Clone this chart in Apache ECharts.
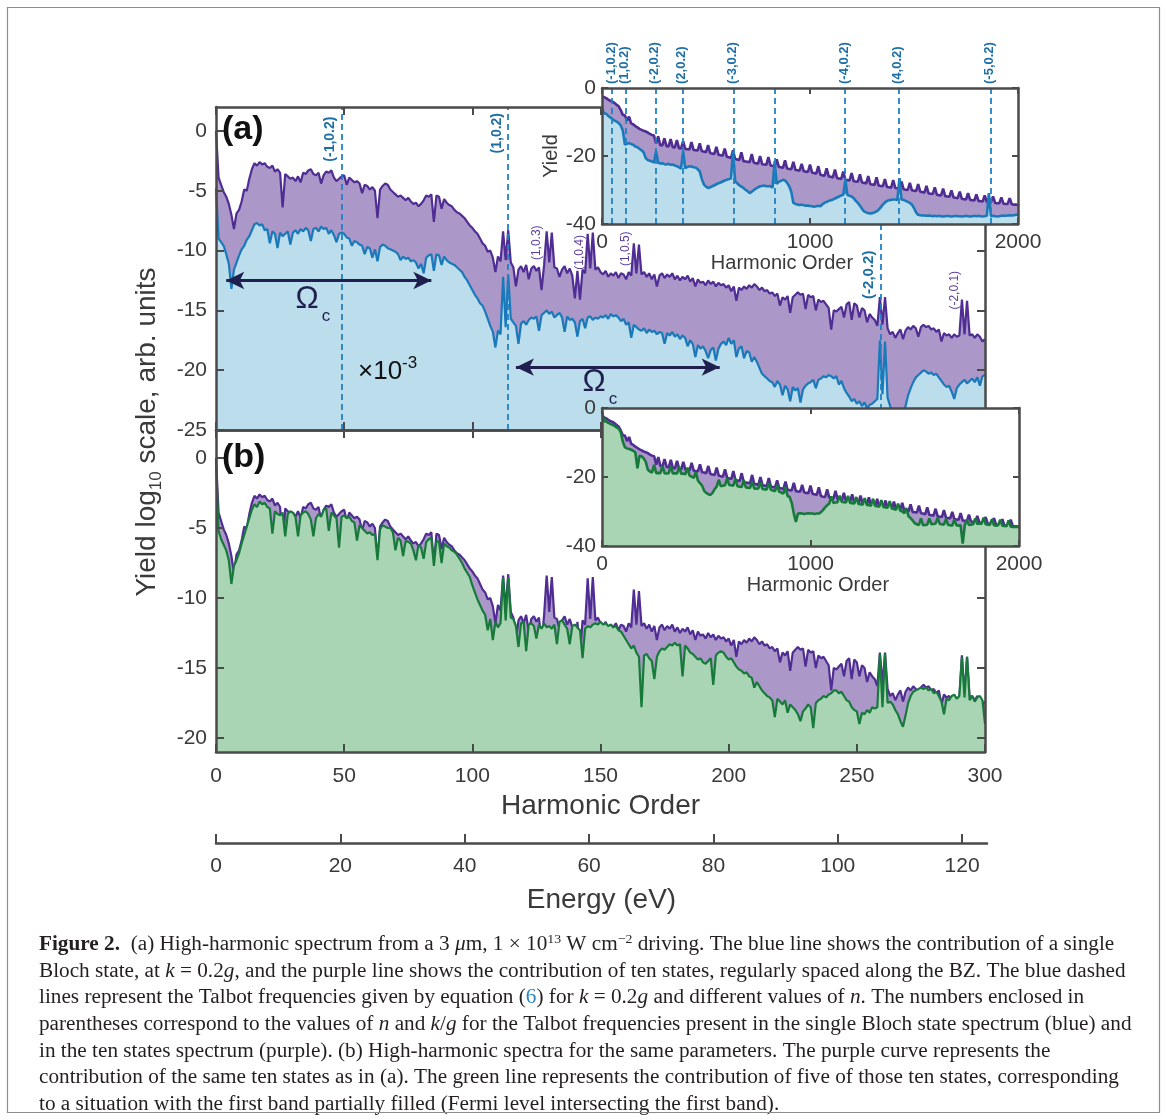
<!DOCTYPE html>
<html>
<head>
  <meta charset="utf-8">
  <script type="text/javascript" src="https://cdn.jsdelivr.net/npm/echarts@6/dist/echarts.min.js"></script>
</head>
<body style="margin: 0; background: #fff">
  <div id="container" style="width: 1167px; height: 1120px"></div>
  <script type="text/javascript">
    // purple: ten states, harmonic order 0..300 (step 1)
    var purple = [
      0.0, -3.9, -4.5, -5.1, -5.5, -6.1, -7.0, -8.2, -6.9, -6.6,
      -5.9, -4.9, -5.0, -4.0, -3.2, -2.7, -2.9, -2.6, -2.8, -2.7,
      -3.0, -3.1, -2.9, -3.4, -3.2, -3.5, -6.4, -3.6, -3.8, -4.0,
      -3.9, -4.2, -3.8, -4.3, -3.5, -3.6, -3.3, -3.2, -3.6, -3.7,
      -3.5, -4.4, -3.7, -3.4, -3.5, -3.3, -3.9, -4.2, -4.0, -3.8,
      -3.7, -4.5, -3.9, -4.1, -4.3, -4.2, -4.4, -5.2, -4.5, -4.6,
      -4.9, -4.7, -5.0, -7.3, -4.9, -4.6, -4.4, -4.5, -4.9, -5.1,
      -5.3, -5.5, -5.4, -5.6, -5.8, -5.6, -5.9, -6.1, -6.0, -6.3,
      -6.1, -5.8, -5.4, -5.5, -5.3, -7.6, -5.4, -5.5, -6.5, -5.7,
      -6.0, -6.2, -6.3, -6.6, -6.8, -6.9, -7.1, -7.3, -7.6, -7.9,
      -8.1, -8.4, -8.6, -9.0, -9.4, -9.6, -10.1, -10.0, -10.6, -11.8,
      -10.5, -10.9, -8.4, -10.8, -8.3, -11.0, -11.4, -13.0, -11.6, -11.3,
      -11.8, -11.2, -12.4, -11.5, -11.3, -11.7, -11.4, -13.3, -11.2, -8.4,
      -11.0, -8.5, -11.4, -11.5, -12.2, -11.6, -11.3, -11.9, -11.5, -12.1,
      -14.0, -11.7, -14.1, -11.6, -11.9, -8.6, -11.5, -8.5, -11.6, -11.4,
      -11.8, -12.0, -11.7, -12.2, -11.9, -12.1, -11.8, -12.3, -11.9, -12.0,
      -12.4, -11.8, -12.1, -9.4, -11.9, -9.5, -12.0, -11.8, -12.2, -11.9,
      -12.4, -12.0, -13.0, -12.1, -11.9, -12.3, -12.0, -12.2, -11.9, -12.4,
      -12.1, -12.5, -12.2, -12.4, -12.1, -12.6, -12.3, -13.0, -12.4, -12.7,
      -12.6, -12.9, -12.5, -12.8, -12.6, -13.0, -12.7, -12.9, -12.8, -13.1,
      -12.9, -13.4, -13.0, -14.2, -13.1, -13.3, -13.0, -13.2, -12.9, -13.1,
      -12.8, -13.0, -13.3, -13.1, -13.4, -13.3, -13.6, -13.5, -13.8, -13.6,
      -14.6, -13.9, -14.1, -13.8, -15.2, -13.9, -13.7, -13.5, -13.7, -13.6,
      -14.9, -13.7, -13.9, -13.8, -15.0, -14.1, -14.3, -14.2, -14.5, -14.8,
      -16.6, -15.0, -15.1, -14.9, -14.7, -15.6, -14.5, -14.3, -15.8, -14.4,
      -14.6, -15.6, -14.8, -15.0, -16.0, -15.3, -15.6, -15.8, -16.3, -13.9,
      -16.2, -13.9, -16.5, -17.0, -16.8, -17.3, -16.9, -16.6, -17.4, -16.7,
      -16.4, -16.6, -16.3, -16.5, -17.2, -16.4, -16.2, -16.4, -16.3, -16.6,
      -16.5, -16.8, -16.6, -17.6, -16.9, -17.1, -17.0, -17.3, -17.0, -17.2,
      -17.1, -14.1, -17.0, -14.2, -17.1, -17.0, -17.3, -17.0, -17.2, -17.6,
      -17.4
    ];
    // blue: single Bloch state (k = 0.2g), x10^-3
    var blue = [
      -4.8, -9.0, -9.3, -9.6, -10.3, -11.1, -13.2, -11.6, -11.0, -10.4,
      -9.9, -9.6, -9.1, -8.8, -8.3, -7.8, -7.7, -7.9, -7.8, -8.3,
      -8.2, -9.4, -8.4, -8.6, -9.8, -8.5, -8.8, -8.6, -8.4, -9.5,
      -8.5, -8.3, -8.6, -8.2, -8.4, -8.1, -8.3, -9.2, -8.2, -8.1,
      -8.4, -8.0, -8.2, -8.1, -8.6, -8.3, -8.7, -9.3, -8.6, -8.5,
      -8.6, -8.9, -9.0, -9.6, -9.2, -9.3, -9.5, -9.6, -10.3, -9.7,
      -9.8, -10.6, -9.9, -10.9, -9.7, -9.5, -9.6, -9.8, -9.9, -10.0,
      -10.1, -10.3, -10.8, -10.5, -10.7, -10.6, -10.9, -10.8, -11.0, -11.5,
      -11.1, -11.9, -10.6, -10.4, -10.3, -11.7, -10.3, -10.4, -11.2, -10.5,
      -10.8, -11.0, -11.1, -11.2, -11.4, -11.6, -11.8, -12.2, -12.5, -12.9,
      -13.3, -13.7, -14.0, -14.4, -14.6, -15.1, -15.7, -16.3, -16.8, -18.1,
      -16.7, -17.0, -12.2, -16.4, -12.0, -15.7, -16.0, -16.3, -17.8, -16.1,
      -15.9, -16.2, -15.8, -15.6, -15.7, -15.5, -16.7, -15.4, -15.2, -15.0,
      -15.3, -15.1, -15.6, -15.4, -15.2, -15.6, -16.8, -15.5, -15.8, -15.7,
      -16.0, -17.2, -15.9, -15.7, -16.5, -15.6, -15.5, -15.8, -15.6, -15.7,
      -15.5, -15.6, -15.4, -15.7, -15.3, -15.5, -15.4, -15.6, -15.9, -15.7,
      -16.2, -16.0, -17.3, -16.2, -16.4, -16.6, -16.7, -16.5, -16.9, -16.6,
      -16.8, -16.7, -17.0, -16.8, -16.9, -17.8, -16.9, -17.1, -16.8, -17.2,
      -17.0, -17.4, -17.1, -17.3, -18.0, -17.5, -17.8, -18.9, -17.9, -18.2,
      -18.0, -18.4, -19.0, -18.3, -18.1, -19.2, -18.2, -17.8, -17.6, -17.9,
      -17.3, -17.8, -17.5, -18.9, -18.2, -18.0, -19.0, -18.4, -18.5, -19.3,
      -18.9, -19.3, -19.8, -20.3, -20.5, -20.7, -20.9, -21.0, -21.4, -20.9,
      -21.2, -22.1, -21.3, -21.6, -22.6, -21.4, -21.7, -21.5, -22.7, -21.6,
      -21.3, -21.1, -21.0, -20.8, -21.5, -20.8, -20.7, -20.5, -20.6, -20.4,
      -20.5, -20.7, -20.5, -21.2, -20.9, -21.5, -21.9, -22.2, -22.6, -22.4,
      -22.8, -22.6, -23.0, -22.7, -23.2, -22.9, -22.8, -22.6, -22.4, -17.5,
      -22.0, -17.6, -22.3, -23.0, -23.6, -24.0, -23.8, -24.2, -23.7, -23.0,
      -22.1, -21.5, -21.0, -20.6, -20.4, -20.2, -20.0, -20.1, -20.3, -20.2,
      -20.4, -20.3, -20.6, -20.9, -21.2, -21.4, -21.3, -21.8, -22.4, -21.5,
      -21.2, -21.0, -20.8, -21.1, -20.9, -20.7, -21.0, -20.6, -21.3, -20.5,
      -20.4
    ];
    // green: five of the ten states
    var green = [
      -0.3, -5.2, -5.8, -6.2, -6.6, -7.3, -9.0, -7.7, -7.3, -6.8,
      -6.1, -5.5, -4.9, -4.3, -3.7, -3.3, -3.5, -3.1, -3.3, -3.2,
      -3.5, -3.6, -5.4, -3.8, -4.0, -4.1, -3.9, -5.6, -4.0, -3.8,
      -3.9, -4.2, -5.6, -4.1, -3.9, -3.8, -4.0, -4.4, -5.6, -4.3,
      -4.0, -4.2, -3.7, -3.6, -5.2, -3.9, -4.1, -4.3, -6.4, -4.2,
      -4.1, -4.3, -4.2, -4.5, -4.6, -5.9, -4.8, -5.0, -5.2, -5.4,
      -5.3, -5.5, -5.4, -7.3, -5.1, -4.8, -4.9, -5.0, -5.0, -5.3,
      -6.6, -5.7, -5.9, -7.0, -5.9, -6.0, -6.1, -6.6, -7.3, -6.2,
      -6.4, -7.2, -6.0, -5.8, -5.7, -7.7, -5.9, -6.0, -7.5, -6.1,
      -6.3, -6.4, -6.6, -6.7, -6.9, -7.2, -7.5, -7.9, -8.2, -8.5,
      -9.1, -9.6, -10.1, -10.5, -10.9, -11.2, -12.3, -11.5, -13.0, -11.7,
      -12.1, -11.8, -8.5, -11.6, -8.5, -11.4, -11.5, -12.0, -13.5, -11.8,
      -11.7, -13.8, -11.9, -11.8, -12.0, -12.9, -11.9, -12.2, -11.8, -12.1,
      -12.0, -12.2, -11.9, -13.3, -11.7, -11.6, -11.9, -12.2, -13.3, -12.0,
      -11.9, -12.1, -12.3, -14.3, -12.2, -12.0, -12.1, -11.9, -11.8, -11.9,
      -11.7, -11.9, -11.8, -12.0, -11.9, -12.1, -12.0, -12.3, -12.4, -12.7,
      -13.0, -13.3, -13.6, -13.4, -13.9, -14.2, -17.8, -14.1, -14.0, -14.3,
      -14.5, -15.8, -14.2, -13.8, -13.6, -13.7, -13.5, -13.3, -13.4, -13.2,
      -13.4, -13.3, -15.6, -13.4, -13.6, -13.9, -14.0, -14.2, -14.4, -14.3,
      -14.6, -14.7, -14.5, -14.3, -16.2, -14.1, -13.9, -13.8, -13.9, -14.2,
      -14.4, -14.3, -14.6, -14.9, -15.1, -15.2, -15.4, -15.3, -15.6, -15.7,
      -16.4, -16.0, -16.3, -16.6, -16.8, -17.0, -17.1, -17.3, -18.5, -17.2,
      -17.4, -17.6, -17.3, -18.2, -17.6, -17.8, -18.0, -18.3, -18.8, -18.1,
      -17.9, -17.6, -17.8, -19.3, -17.5, -17.3, -17.2, -17.0, -17.1, -16.9,
      -16.8, -16.6, -16.6, -16.8, -16.7, -17.0, -17.3, -17.4, -17.8, -18.0,
      -18.1, -19.0, -18.2, -18.3, -18.0, -18.2, -17.8, -17.9, -17.8, -14.0,
      -17.8, -14.0, -17.5, -17.4, -17.6, -18.0, -18.3, -18.8, -19.2, -18.4,
      -17.5, -17.0, -16.7, -16.6, -16.5, -16.4, -16.5, -16.4, -16.6, -16.5,
      -16.8, -16.7, -17.0, -17.4, -18.3, -17.2, -17.3, -17.0, -16.9, -17.2,
      -17.0, -14.2, -17.1, -14.2, -17.3, -17.0, -17.4, -17.1, -17.0, -17.3,
      -19.0
    ];

    // insets: harmonic order 0..2000, step 10
    var INSET_STEP = 10;
    var insetPurple = [
      -2.5, -2.7, -3.0, -3.4, -3.8, -4.0, -4.4, -4.9, -5.4, -6.5,
      -7.9, -8.0, -9.6, -8.4, -10.4, -10.7, -11.2, -11.6, -12.0, -12.3,
      -12.6, -12.8, -13.1, -13.5, -13.8, -14.0, -16.4, -14.2, -16.8, -16.9,
      -14.8, -17.1, -17.2, -15.0, -17.4, -17.5, -15.3, -17.7, -17.8, -15.6,
      -17.9, -18.0, -18.1, -15.9, -18.2, -18.3, -18.4, -16.3, -18.6, -18.7,
      -18.9, -16.8, -19.1, -19.3, -19.4, -17.3, -19.6, -19.8, -19.9, -17.8,
      -20.2, -20.4, -20.6, -18.3, -20.9, -21.0, -21.2, -18.9, -21.5, -21.6,
      -21.7, -21.8, -19.4, -22.0, -22.1, -22.3, -20.0, -22.4, -22.5, -22.6,
      -20.3, -22.8, -22.9, -23.0, -21.0, -23.2, -23.3, -23.5, -21.3, -23.7,
      -23.8, -23.9, -21.7, -24.1, -24.2, -24.3, -22.3, -24.5, -24.6, -24.7,
      -22.5, -24.9, -25.0, -25.2, -23.0, -25.5, -25.7, -25.8, -23.6, -26.0,
      -26.1, -26.3, -24.0, -26.5, -26.6, -26.8, -24.6, -27.0, -27.1, -27.2,
      -25.0, -27.4, -27.5, -27.6, -25.4, -27.8, -27.9, -28.1, -25.9, -28.3,
      -28.4, -28.5, -26.3, -28.7, -28.8, -28.9, -26.8, -29.1, -29.2, -29.3,
      -27.1, -29.4, -29.5, -29.6, -27.5, -29.8, -29.9, -30.0, -27.9, -30.1,
      -30.2, -30.3, -28.3, -30.5, -30.6, -30.8, -28.8, -31.0, -31.1, -31.2,
      -29.2, -31.4, -31.5, -31.6, -29.6, -31.8, -31.9, -32.0, -30.1, -32.2,
      -32.3, -32.4, -30.5, -32.6, -32.7, -32.8, -30.9, -32.9, -33.0, -33.1,
      -31.3, -33.2, -33.3, -33.4, -31.6, -33.5, -33.6, -33.6, -31.9, -33.8,
      -33.9, -33.9, -32.2, -34.0, -34.1, -34.1, -32.4, -34.2, -34.3, -34.3,
      -34.4
    ];
    var insetBlue = [
      -6.0, -7.4, -7.6, -8.2, -8.7, -9.1, -9.6, -9.9, -10.3, -11.0,
      -12.5, -16.6, -16.4, -16.2, -16.5, -16.7, -17.2, -17.4, -17.9, -18.3,
      -18.9, -20.6, -21.2, -21.4, -21.6, -21.9, -18.6, -22.0, -22.2, -22.1,
      -22.4, -22.5, -22.3, -22.6, -22.5, -22.8, -23.0, -23.3, -23.7, -18.6,
      -23.6, -23.2, -23.0, -23.1, -23.3, -23.4, -23.9, -24.5, -26.8, -28.4,
      -29.0, -29.4, -29.2, -28.9, -28.6, -28.3, -28.0, -27.8, -27.5, -27.2,
      -27.0, -26.8, -26.6, -18.6, -27.4, -28.0, -28.6, -29.0, -29.4, -29.9,
      -30.4, -30.9, -30.5, -30.0, -29.6, -29.2, -28.9, -28.8, -28.7, -28.9,
      -28.9, -28.8, -29.3, -21.5, -28.2, -27.6, -27.3, -27.0, -27.2, -27.9,
      -28.9, -30.5, -33.8, -34.1, -34.3, -34.4, -34.3, -34.5, -34.6, -34.6,
      -34.7, -34.8, -34.9, -34.8, -34.6, -34.8, -34.2, -33.8, -33.5, -33.2,
      -33.0, -32.8, -32.5, -32.2, -31.9, -31.6, -31.4, -27.0, -31.5, -31.7,
      -31.9, -32.4, -33.2, -33.8, -34.6, -35.5, -36.3, -36.6, -36.8, -36.9,
      -36.8, -36.6, -36.3, -35.8, -35.1, -34.3, -33.7, -33.2, -33.0, -32.9,
      -32.8, -32.8, -32.9, -26.5, -32.8, -32.9, -33.2, -33.5, -33.8, -34.3,
      -35.3, -36.6, -37.3, -37.4, -37.5, -37.5, -37.6, -37.5, -37.6, -37.7,
      -37.6, -37.7, -37.6, -37.7, -37.8, -37.7, -37.6, -37.7, -37.8, -37.7,
      -37.6, -37.7, -37.7, -37.8, -37.7, -37.6, -37.7, -37.8, -37.7, -37.6,
      -37.7, -37.6, -37.7, -37.8, -37.7, -37.6, -30.9, -37.7, -37.6, -37.7,
      -37.8, -37.7, -37.6, -37.5, -37.6, -37.5, -37.4, -37.5, -37.4, -37.3,
      -37.3
    ];
    var insetGreen = [
      -1.0, -3.8, -3.9, -4.3, -4.6, -4.9, -5.2, -5.6, -6.0, -7.0,
      -9.8, -11.4, -11.7, -11.9, -12.1, -12.4, -12.9, -17.5, -13.8, -14.0,
      -14.6, -15.6, -17.9, -18.4, -18.7, -16.5, -18.9, -18.8, -18.9, -16.8,
      -18.9, -19.0, -18.9, -16.9, -19.0, -18.9, -19.0, -17.0, -19.1, -19.0,
      -19.2, -17.3, -19.6, -19.9, -20.3, -18.6, -21.0, -21.8, -22.5, -24.0,
      -24.6, -25.0, -25.2, -24.6, -23.5, -22.8, -20.8, -22.7, -22.5, -22.4,
      -20.4, -22.3, -22.4, -22.5, -20.5, -22.7, -22.8, -22.9, -20.9, -23.0,
      -23.1, -23.2, -21.3, -23.3, -23.4, -23.3, -21.5, -23.5, -23.6, -23.6,
      -21.7, -23.7, -23.9, -24.1, -22.3, -24.3, -24.5, -24.8, -22.9, -25.5,
      -25.8, -27.5, -30.6, -33.0, -30.6, -30.5, -30.6, -30.7, -30.6, -30.5,
      -30.6, -30.6, -30.7, -30.6, -30.6, -30.2, -29.6, -28.8, -28.2, -27.7,
      -25.6, -27.5, -27.4, -27.3, -25.4, -27.2, -27.3, -27.4, -25.5, -27.5,
      -27.6, -27.7, -25.8, -27.8, -27.9, -28.0, -26.1, -28.1, -28.2, -28.3,
      -26.3, -28.4, -28.5, -28.6, -26.7, -28.7, -28.8, -28.9, -27.0, -29.1,
      -29.3, -29.5, -27.7, -29.7, -30.0, -30.5, -29.0, -31.4, -31.9, -32.6,
      -33.4, -33.7, -33.9, -32.0, -34.0, -33.9, -33.8, -32.0, -33.7, -33.6,
      -33.5, -31.8, -33.6, -33.7, -33.8, -32.1, -33.9, -34.0, -34.1, -32.3,
      -34.0, -34.1, -34.0, -39.3, -34.0, -32.3, -33.9, -33.8, -33.7, -32.0,
      -33.6, -33.5, -33.6, -31.8, -33.7, -33.8, -33.9, -32.2, -34.0, -34.1,
      -34.0, -32.4, -34.1, -34.2, -34.3, -32.6, -34.4, -34.5, -34.4, -34.5,
      -34.5
    ];

    // Talbot frequencies (harmonic order)
    var talbotMain = [49.1, 113.8, 259.5];
    var talbotInset = [49, 113, 259, 389, 634, 829, 1168, 1427, 1869];
    var talbotInsetNames = ['(-1,0.2)', '(1,0.2)', '(-2,0.2)', '(2,0.2)', '(-3,0.2)', '', '(-4,0.2)', '(4,0.2)', '(-5,0.2)'];

    var harmonicTicks = [0, 50, 100, 150, 200, 250, 300];
    var yTicksA = [-25, -20, -15, -10, -5, 0];
    var yTicksB = [-20, -15, -10, -5, 0];
    var energyTicks = [0, 20, 40, 60, 80, 100, 120];

    var SPINE = '#4a4a4a';
    var TEXT = '#3a3a3a';
    var PURPLE = '#4f2d93', PURPLE_FILL = '#ab98c9';
    var BLUE = '#1a7ab9', BLUE_FILL = '#bcddeb';
    var GREEN = '#177a3b', GREEN_FILL = '#a9d5b4';
    var DASH = '#2281c4';
    var NAVY = '#1f2050';
    var FONT = '"Liberation Sans", Arial, sans-serif';
    var SERIF = '"Liberation Serif", "Times New Roman", serif';

    var dom = document.getElementById('container');
    var myChart = echarts.init(dom, null, { renderer: 'canvas' });

    function mkAxis(o) {
      var ax = {
        type: 'value',
        gridIndex: o.grid,
        position: o.pos,
        min: o.min,
        max: o.max,
        z: o.z || 5,
        show: o.show !== false,
        axisLine: { show: true, onZero: false, lineStyle: { color: SPINE, width: 2.5 } },
        axisTick: { show: true, inside: true, length: o.tick || 8, lineStyle: { color: SPINE, width: 2 } },
        axisLabel: {
          show: !!o.labels, color: TEXT, fontFamily: FONT, fontSize: o.fs || 21, margin: o.margin || 10,
          formatter: function (v) { return String(v); }
        },
        splitLine: { show: false }
      };
      if (o.interval) ax.interval = o.interval;
      if (o.values) {
        ax.axisTick.customValues = o.values;
        ax.axisLabel.customValues = o.values;
      }
      if (o.name) {
        ax.name = o.name;
        ax.nameLocation = 'middle';
        ax.nameGap = o.nameGap;
        ax.nameTextStyle = { color: TEXT, fontFamily: FONT, fontSize: o.nameSize || 28, padding: o.namePad || 0 };
      }
      return ax;
    }

    function toXY(arr, step) {
      return arr.map(function (v, i) { return [i * step, v]; });
    }

    function areaSeries(name, data, xi, yi, line, fill, z, w) {
      return {
        name: name,
        type: 'line',
        xAxisIndex: xi,
        yAxisIndex: yi,
        data: data,
        showSymbol: false,
        symbol: 'none',
        sampling: null,
        z: z,
        lineStyle: { color: line, width: w || 2.2 },
        itemStyle: { color: line },
        areaStyle: { color: fill, opacity: 1, origin: 'start' },
        silent: true
      };
    }

    var dashStyle = { type: [6, 4], color: DASH, width: 1.8 };

    var option = {
      animation: false,
      backgroundColor: '#fff',
      grid: [
        { left: 216, top: 107, width: 769, height: 323 },
        { left: 216, top: 430, width: 769, height: 322 },
        { left: 602, top: 88, width: 416, height: 136, show: true, backgroundColor: '#fff', borderWidth: 0, z: 10 },
        { left: 602, top: 408, width: 417, height: 138, show: true, backgroundColor: '#fff', borderWidth: 0, z: 10 },
        { left: 216, top: 800, width: 771, height: 43 }
      ],
      xAxis: [
        mkAxis({ grid: 0, pos: 'bottom', min: 0, max: 300, values: harmonicTicks }),
        mkAxis({ grid: 0, pos: 'top', min: 0, max: 300, values: harmonicTicks }),
        mkAxis({ grid: 1, pos: 'bottom', min: 0, max: 300, values: harmonicTicks, labels: true, margin: 14,
          name: 'Harmonic Order', nameGap: 40 }),
        mkAxis({ grid: 1, pos: 'top', min: 0, max: 300, values: harmonicTicks }),
        mkAxis({ grid: 2, pos: 'bottom', min: 0, max: 2000, interval: 1000, labels: true, margin: 8, tick: 6, z: 13,
          name: 'Harmonic Order', nameGap: 28, nameSize: 20, namePad: [0, 56, 0, 0] }),
        mkAxis({ grid: 2, pos: 'top', min: 0, max: 2000, interval: 1000, tick: 6, z: 13 }),
        mkAxis({ grid: 3, pos: 'bottom', min: 0, max: 2000, interval: 1000, labels: true, margin: 8, tick: 6, z: 13,
          name: 'Harmonic Order', nameGap: 28, nameSize: 20, namePad: [0, 0, 0, 15] }),
        mkAxis({ grid: 3, pos: 'top', min: 0, max: 2000, interval: 1000, tick: 6, z: 13 }),
        mkAxis({ grid: 4, pos: 'bottom', min: 0, max: 124, values: energyTicks, labels: true, margin: 13, tick: 9,
          name: 'Energy (eV)', nameGap: 43 })
      ],
      yAxis: [
        mkAxis({ grid: 0, pos: 'left', min: -25, max: 2, values: yTicksA, labels: true, margin: 9 }),
        mkAxis({ grid: 0, pos: 'right', min: -25, max: 2, values: yTicksA }),
        mkAxis({ grid: 1, pos: 'left', min: -21, max: 2, values: yTicksB, labels: true, margin: 9 }),
        mkAxis({ grid: 1, pos: 'right', min: -21, max: 2, values: yTicksB }),
        mkAxis({ grid: 2, pos: 'left', min: -40, max: 0, interval: 20, labels: true, margin: 6, tick: 6, z: 13,
          name: 'Yield', nameGap: 41, nameSize: 20 }),
        mkAxis({ grid: 2, pos: 'right', min: -40, max: 0, interval: 20, tick: 6, z: 13 }),
        mkAxis({ grid: 3, pos: 'left', min: -40, max: 0, interval: 20, labels: true, margin: 6, tick: 6, z: 13 }),
        mkAxis({ grid: 3, pos: 'right', min: -40, max: 0, interval: 20, tick: 6, z: 13 }),
        mkAxis({ grid: 4, pos: 'left', min: 0, max: 1, show: false })
      ],
      series: [
        Object.assign(areaSeries('ten states', toXY(purple, 1), 0, 0, PURPLE, PURPLE_FILL, 2), {
          markLine: {
            silent: true, symbol: 'none', z: 5,
            label: { show: false },
            lineStyle: dashStyle,
            data: talbotMain.map(function (x) { return { xAxis: x }; })
          }
        }),
        Object.assign(areaSeries('single state', toXY(blue, 1), 0, 0, BLUE, BLUE_FILL, 3), {
          markLine: {
            silent: true, z: 6,
            symbol: ['arrow', 'arrow'],
            symbolSize: [13, 18],
            label: { show: false },
            lineStyle: { type: 'solid', color: NAVY, width: 3 },
            data: [
              [{ coord: [4, -12.5] }, { coord: [84, -12.5] }],
              [{ coord: [117, -19.75] }, { coord: [196.5, -19.75] }]
            ]
          }
        }),
        areaSeries('ten states', toXY(purple, 1), 2, 2, PURPLE, PURPLE_FILL, 2),
        areaSeries('five states', toXY(green, 1), 2, 2, GREEN, GREEN_FILL, 3),
        Object.assign(areaSeries('ten states', toXY(insetPurple, INSET_STEP), 4, 4, PURPLE, PURPLE_FILL, 11, 2.6), {
          markLine: {
            silent: true, symbol: 'none', z: 12,
            label: { show: false },
            lineStyle: dashStyle,
            data: talbotInset.map(function (x) { return { xAxis: x }; })
          }
        }),
        areaSeries('single state', toXY(insetBlue, INSET_STEP), 4, 4, BLUE, BLUE_FILL, 11.5, 2.6),
        areaSeries('ten states', toXY(insetPurple, INSET_STEP), 6, 6, PURPLE, PURPLE_FILL, 11, 2.6),
        areaSeries('five states', toXY(insetGreen, INSET_STEP), 6, 6, GREEN, GREEN_FILL, 11.5, 2.6)
      ]
    };

    myChart.setOption(option);

    // annotations placed through the axes
    function px(seriesIndex, p) {
      return myChart.convertToPixel({ seriesIndex: seriesIndex }, p);
    }
    var g = [];
    function vText(p, text, color, size, weight, align) {
      g.push({
        type: 'text', x: p[0], y: p[1], rotation: Math.PI / 2, z: 30, silent: true,
        style: { text: text, fill: color, fontFamily: FONT, fontSize: size, fontWeight: weight,
          align: align, verticalAlign: 'middle' }
      });
    }

    // main panel (a) labels: [text, h, top value]
    var mainLabels = [
      ['(-1,0.2)', 44.5, 1.2, '#1d6fa5', 14, 'bold'],
      ['(1,0.2)', 109.6, 1.5, '#1d6fa5', 14, 'bold'],
      ['(1,0.3)', 125.2, -7.9, '#5b3f9e', 12, 'normal'],
      ['(1,0.4)', 142.0, -8.7, '#5b3f9e', 12, 'normal'],
      ['(1,0.5)', 160.0, -8.4, '#5b3f9e', 12, 'normal'],
      ['(-2,0.2)', 254.8, -10.0, '#1d6fa5', 15, 'bold'],
      ['(-2,0.1)', 288.0, -11.7, '#5b3f9e', 12, 'normal']
    ];
    mainLabels.forEach(function (l) {
      vText(px(0, [l[1], l[2]]), l[0], l[3], l[4], l[5], 'right');
    });
    talbotInset.forEach(function (x, i) {
      if (!talbotInsetNames[i]) return;
      var p = px(4, [x, 0]);
      vText([p[0] - 1, p[1] - 4], talbotInsetNames[i], '#1d6fa5', 13, 'bold', 'left');
    });

    function omega(p) {
      g.push({ type: 'text', x: p[0], y: p[1], z: 30, silent: true,
        style: { text: 'Ω', fill: NAVY, fontFamily: FONT, fontSize: 31, align: 'center', verticalAlign: 'middle' } });
      g.push({ type: 'text', x: p[0] + 19, y: p[1] + 17, z: 30, silent: true,
        style: { text: 'c', fill: NAVY, fontFamily: FONT, fontSize: 17, align: 'center', verticalAlign: 'middle' } });
    }
    omega(px(0, [35.5, -14.1]));
    omega(px(0, [147.5, -21.0]));

    var xp = px(0, [55.4, -20.1]);
    g.push({ type: 'text', x: xp[0], y: xp[1], z: 30, silent: true,
      style: { text: '×10{s|-3}', fill: '#111', fontFamily: FONT, fontSize: 26, align: 'left', verticalAlign: 'middle',
        lineHeight: 34, rich: { s: { fontSize: 17, fontFamily: FONT, fill: '#111', verticalAlign: 'top', lineHeight: 17 } } } });

    var pa = px(0, [0, 2]);
    g.push({ type: 'text', x: pa[0] + 6, y: pa[1] + 23, z: 30, silent: true,
      style: { text: '(a)', fill: '#111', fontFamily: FONT, fontSize: 34, fontWeight: 'bold', verticalAlign: 'middle' } });
    var pb = px(2, [0, 2]);
    g.push({ type: 'text', x: pb[0] + 6, y: pb[1] + 28, z: 30, silent: true,
      style: { text: '(b)', fill: '#111', fontFamily: FONT, fontSize: 34, fontWeight: 'bold', verticalAlign: 'middle' } });

    // shared y label
    g.push({ type: 'text', x: 147, y: 432, rotation: Math.PI / 2, z: 30, silent: true,
      style: { text: 'Yield log{s|10} scale, arb. units', fill: TEXT, fontFamily: FONT, fontSize: 28,
        align: 'center', verticalAlign: 'middle', lineHeight: 36,
        rich: { s: { fontSize: 17, fontFamily: FONT, fill: TEXT, verticalAlign: 'bottom', lineHeight: 17 } } } });

    // caption
    var caption = [
      '{b|Figure 2.}  (a) High-harmonic spectrum from a 3 {i|μ}m, 1 × 10{p|13} W cm{p|−2} driving. The blue line shows the contribution of a single',
      'Bloch state, at {i|k} = 0.2{i|g}, and the purple line shows the contribution of ten states, regularly spaced along the BZ. The blue dashed',
      'lines represent the Talbot frequencies given by equation ({l|6}) for {i|k} = 0.2{i|g} and different values of {i|n}. The numbers enclosed in',
      'parentheses correspond to the values of {i|n} and {i|k}/{i|g} for the Talbot frequencies present in the single Bloch state spectrum (blue) and',
      'in the ten states spectrum (purple). (b) High-harmonic spectra for the same parameters. The purple curve represents the',
      'contribution of the same ten states as in (a). The green line represents the contribution of five of those ten states, corresponding',
      'to a situation with the first band partially filled (Fermi level intersecting the first band).'
    ];
    var ctx = document.createElement('canvas').getContext('2d');
    ctx.font = '20px ' + SERIF;
    var plain = caption[0].replace(/\{[a-z]\|([^}]*)\}/g, '$1');
    var capScale = 1087 / ctx.measureText(plain).width;
    var richCap = {
      b: { fontWeight: 'bold', fontSize: 20, fontFamily: SERIF, fill: '#231f20' },
      i: { fontStyle: 'italic', fontSize: 20, fontFamily: SERIF, fill: '#231f20' },
      l: { fontSize: 20, fontFamily: SERIF, fill: '#2e86c1' },
      p: { fontSize: 13, fontFamily: SERIF, fill: '#231f20', verticalAlign: 'top', lineHeight: 13 }
    };
    caption.forEach(function (line, i) {
      g.push({ type: 'text', x: 39, y: 945 + i * 26.6, scaleX: capScale, z: 30, silent: true,
        style: { text: line, fill: '#231f20', fontFamily: SERIF, fontSize: 20, lineHeight: 24,
          align: 'left', verticalAlign: 'middle', rich: richCap } });
    });

    g.push({ type: 'rect', z: 31, silent: true, shape: { x: 7.5, y: 7.5, width: 1152, height: 1105 },
      style: { fill: null, stroke: '#8c8c8c', lineWidth: 1.2 } });

    myChart.setOption({ graphic: g });
  </script>
</body>
</html>
